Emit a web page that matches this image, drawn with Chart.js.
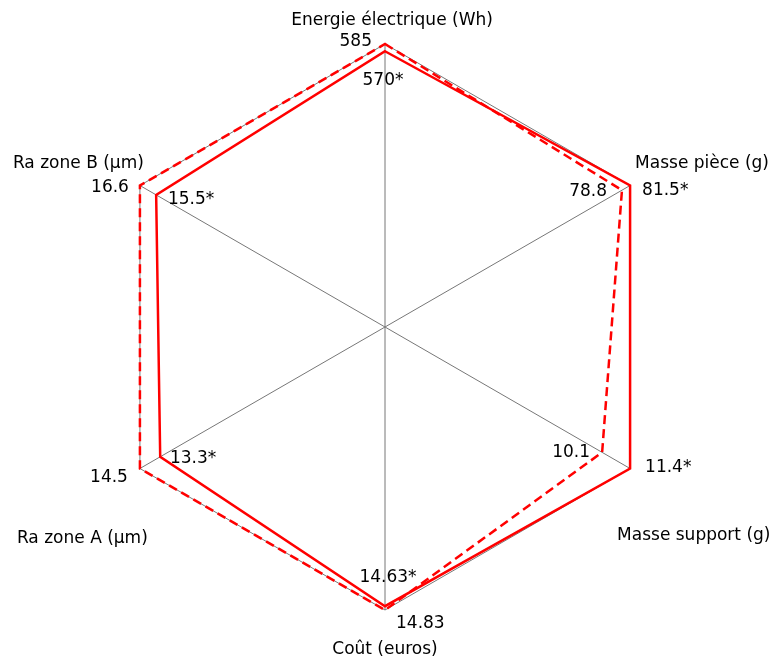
<!DOCTYPE html>
<html>
<head>
<meta charset="utf-8">
<script src="https://cdn.jsdelivr.net/npm/chart.js@4"></script>
<style>
    html, body { margin: 0; padding: 0; background: #fff; }
    #wrap { width: 775px; height: 661px; position: relative; }
</style>
</head>
<body>
<div id="wrap"><canvas id="radar"></canvas></div>
<script>
// axes of the radar
const axes = ['Energie électrique (Wh)', 'Masse pièce (g)', 'Masse support (g)',
    'Coût (euros)', 'Ra zone A (µm)', 'Ra zone B (µm)'];

// dashed series (reference) and solid series (marked with *)
const refValues = [585, 78.8, 10.1, 14.83, 14.5, 16.6];
const optValues = [570, 81.5, 11.4, 14.63, 13.3, 15.5];

// each axis is scaled to its own maximum
const axisMax = axes.map((_, i) => Math.max(refValues[i], optValues[i]));

const FONT = '17px "DejaVu Sans", Verdana, sans-serif';

// label placement relative to the outer vertex of each axis: [dx, dy, align]
const titlePos = [
    [7, -23, 'center'], [5, -22, 'left'], [-13, 67, 'left'],
    [0, 40, 'center'], [-123, 70, 'left'], [-127, -22, 'left']
];
const refPos = [
    [-13, -2, 'right'], [-23, 6, 'right'], [-40, -16, 'right'],
    [11, 14, 'left'], [-12, 9, 'right'], [-11, 2, 'right']
];
const optPos = [
    [-2, 37, 'center'], [12, 5, 'left'], [15, -1, 'left'],
    [3, -32, 'center'], [30, -10, 'left'], [28, 14, 'left']
];

const labelPlugin = {
    id: 'axisLabels',
    afterDraw(chart) {
        const scale = chart.scales.r;
        const ctx = chart.ctx;
        ctx.save();
        ctx.font = FONT;
        ctx.fillStyle = '#000';
        ctx.textBaseline = 'middle';
        const put = (txt, i, pos) => {
            const p = scale.getPointPositionForValue(i, 1);
            ctx.textAlign = pos[2];
            ctx.fillText(txt, p.x + pos[0], p.y + pos[1]);
        };
        axes.forEach((name, i) => {
            put(name, i, titlePos[i]);
            put(String(refValues[i]), i, refPos[i]);
            put(String(optValues[i]) + '*', i, optPos[i]);
        });
        ctx.restore();
    }
};

new Chart(document.getElementById('radar'), {
    type: 'radar',
    data: {
        labels: axes,
        datasets: [{
            data: refValues.map((v, i) => v / axisMax[i]),
            borderColor: '#ff0000',
            borderWidth: 2.5,
            borderDash: [9, 5],
            pointRadius: 0,
            fill: false,
            tension: 0
        }, {
            data: optValues.map((v, i) => v / axisMax[i]),
            borderColor: '#ff0000',
            borderWidth: 2.5,
            pointRadius: 0,
            fill: false,
            tension: 0
        }]
    },
    options: {
        responsive: true,
        maintainAspectRatio: false,
        animation: false,
        layout: {
            padding: { top: 44, bottom: 51, left: 99, right: 103 }
        },
        scales: {
            r: {
                min: 0,
                max: 1,
                ticks: { display: false, stepSize: 1 },
                grid: { color: '#777777', lineWidth: 1 },
                angleLines: { color: '#777777', lineWidth: 1 },
                pointLabels: { display: false }
            }
        },
        plugins: {
            legend: { display: false },
            tooltip: { enabled: false }
        }
    },
    plugins: [labelPlugin]
});
</script>
</body>
</html>
